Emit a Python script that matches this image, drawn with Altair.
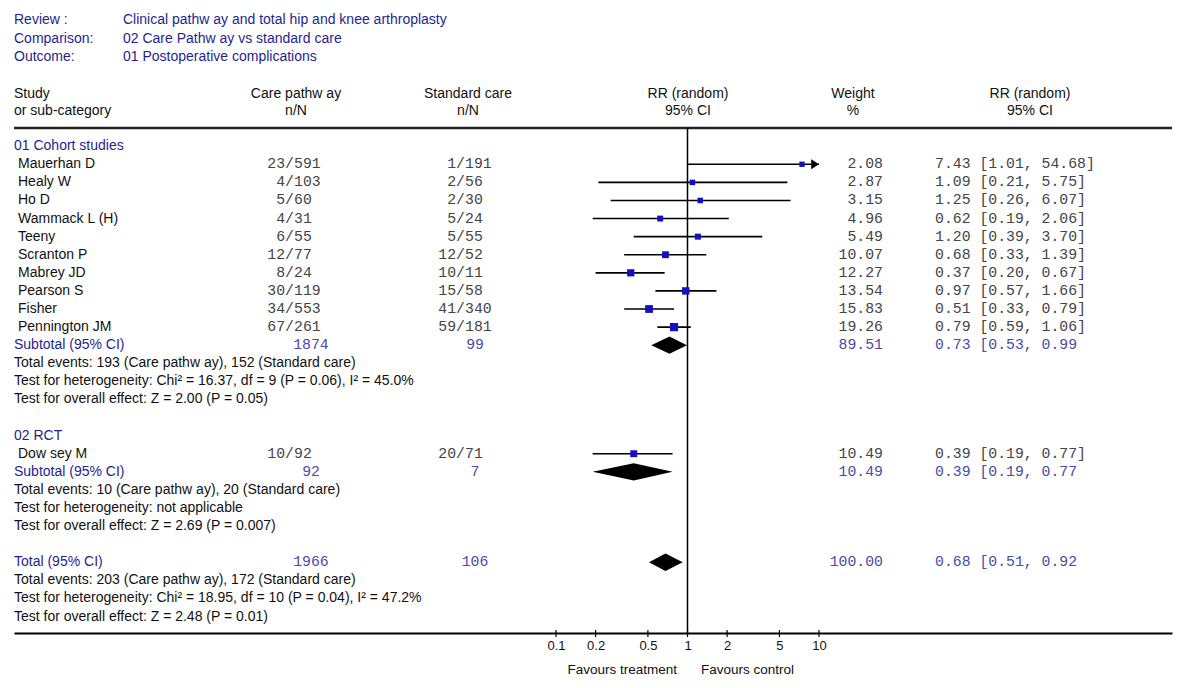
import altair as alt
import pandas as pd

# ---------------- data ----------------
STUDY = ["Mauerhan D", "Healy W", "Ho D", "Wammack L (H)", "Teeny", "Scranton P",
         "Mabrey JD", "Pearson S", "Fisher", "Pennington JM", "Dow sey M"]
GROUP = [0, 0, 0, 0, 0, 0, 0, 0, 0, 0, 1]
GROUP_NAMES = ["01 Cohort studies", "02 RCT"]
CARE_n = [23, 4, 5, 4, 6, 12, 8, 30, 34, 67, 10]
CARE_N = [591, 103, 60, 31, 55, 77, 24, 119, 553, 261, 92]
STD_n = [1, 2, 2, 5, 5, 12, 10, 15, 41, 59, 20]
STD_N = [191, 56, 30, 24, 55, 52, 11, 58, 340, 181, 71]
WEIGHT = [2.08, 2.87, 3.15, 4.96, 5.49, 10.07, 12.27, 13.54, 15.83, 19.26, 10.49]
RR = [7.43, 1.09, 1.25, 0.62, 1.20, 0.68, 0.37, 0.97, 0.51, 0.79, 0.39]
LO = [1.01, 0.21, 0.26, 0.19, 0.39, 0.33, 0.20, 0.57, 0.33, 0.59, 0.19]
HI = [54.68, 5.75, 6.07, 2.06, 3.70, 1.39, 0.67, 1.66, 0.79, 1.06, 0.77]

SUM_LABEL = ["Subtotal (95% CI)", "Subtotal (95% CI)", "Total (95% CI)"]
SUM_CARE = ["1874", "92", "1966"]
SUM_STD = ["99", "7", "106"]
SUM_WEIGHT = [89.51, 10.49, 100.00]
SUM_RR = [0.73, 0.39, 0.68]
SUM_LO = [0.53, 0.19, 0.51]
SUM_HI = [0.99, 0.77, 0.92]

GROUP_STATS = [
    ["Total events: 193 (Care pathw ay), 152 (Standard care)",
     "Test for heterogeneity: Chi² = 16.37, df = 9 (P = 0.06), I² = 45.0%",
     "Test for overall effect: Z = 2.00 (P = 0.05)"],
    ["Total events: 10 (Care pathw ay), 20 (Standard care)",
     "Test for heterogeneity: not applicable",
     "Test for overall effect: Z = 2.69 (P = 0.007)"],
]
TOTAL_STATS = ["Total events: 203 (Care pathw ay), 172 (Standard care)",
               "Test for heterogeneity: Chi² = 18.95, df = 10 (P = 0.04), I² = 47.2%",
               "Test for overall effect: Z = 2.48 (P = 0.01)"]

HEADER_KEYS = ["Review :", "Comparison:", "Outcome:"]
HEADER_VALS = ["Clinical pathw ay and total hip and knee arthroplasty",
               "02 Care Pathw ay vs standard care",
               "01 Postoperative complications"]
COL_HEAD_1 = ["Study", "Care pathw ay", "Standard care", "RR (random)", "Weight", "RR (random)"]
COL_HEAD_2 = ["or sub-category", "n/N", "n/N", "95% CI", "%", "95% CI"]
TICKS = [0.1, 0.2, 0.5, 1, 2, 5, 10]
REF = [1]
X_MAX = 10
FAV_LEFT = "Favours treatment"
FAV_RIGHT = "Favours control"

# ---------------- layout ----------------
OX, OY = 14, 128            # page position of plot origin
W, H = 1158, 505
ROW0 = 146.2 - OY           # pixel of row 0 inside plot
STEP = 18.09
X_ONE = 687.5 - OX
DEC = 131.5
SANS = "Liberation Sans"
MONO = "Liberation Mono"
FS = 14
MFS = 14.8
BLUE = "#1f1f8f"
MBLUE = "#4a4aa8"
GRAY = "#444444"
DIAM_HALF = 0.48

yscale = alt.Scale(domain=[-ROW0 / STEP, (H - ROW0) / STEP], reverse=True, nice=False, zero=False)
xscale = alt.Scale(type="log", domain=[10 ** (-X_ONE / DEC), 10 ** ((W - X_ONE) / DEC)], nice=False)
AX = alt.Axis(values=TICKS, format="~g", ticks=False, tickSize=0, grid=False, domain=True,
              domainColor="black", domainWidth=2, labelFont=SANS, labelFontSize=13,
              labelColor="#111111", labelPadding=6, title=None, labelFlush=False,
              labelOverlap=False)

# ---------------- row assignment ----------------
study_rows = [0] * len(STUDY)
blue_labels, stat_lines, sum_rows = [], [], []
r = 0
for g, gname in enumerate(GROUP_NAMES):
    blue_labels.append((gname, r)); r += 1
    for i in range(len(STUDY)):
        if GROUP[i] == g:
            study_rows[i] = r; r += 1
    blue_labels.append((SUM_LABEL[g], r)); sum_rows.append(r); r += 1
    for s in GROUP_STATS[g]:
        stat_lines.append((s, r)); r += 1
    r += 1
blue_labels.append((SUM_LABEL[2], r)); sum_rows.append(r); r += 1
for s in TOTAL_STATS:
    stat_lines.append((s, r)); r += 1

st = pd.DataFrame({
    "name": STUDY, "row": study_rows, "w": WEIGHT, "rr": RR, "lo": LO, "hi": HI,
    "care_num": [f"{a}/" for a in CARE_n], "care_den": [str(b) for b in CARE_N],
    "std_num": [f"{a}/" for a in STD_n], "std_den": [str(b) for b in STD_N],
    "wtxt": [f"{w:.2f}" for w in WEIGHT],
    "citxt": [f"{a:.2f} [{b:.2f}, {c:.2f}]" for a, b, c in zip(RR, LO, HI)],
})
st["hi_clip"] = st["hi"].clip(upper=X_MAX)
arrows = st[st["hi"] > X_MAX].assign(xa=X_MAX)

sm = pd.DataFrame({
    "row": sum_rows, "care": SUM_CARE, "std": SUM_STD,
    "wtxt": [f"{w:.2f}" for w in SUM_WEIGHT],
    "citxt": [f"{a:.2f} [{b:.2f}, {c:.2f}" for a, b, c in zip(SUM_RR, SUM_LO, SUM_HI)],
})
dia = []
for k, (rw, e, l, h) in enumerate(zip(sum_rows, SUM_RR, SUM_LO, SUM_HI)):
    dia += [{"g": k, "x": l, "y1": rw, "y2": rw},
            {"g": k, "x": e, "y1": rw - DIAM_HALF, "y2": rw + DIAM_HALF},
            {"g": k, "x": h, "y1": rw, "y2": rw}]
dia = pd.DataFrame(dia)
bl = pd.DataFrame(blue_labels, columns=["t", "row"])
sl = pd.DataFrame(stat_lines, columns=["t", "row"])

Y = alt.Y("row:Q", scale=yscale, axis=None)

def xenc(field):
    return alt.X(field, type="quantitative", scale=xscale, axis=AX)

layers = []
# top line
layers.append(alt.Chart(pd.DataFrame({"a": [0]})).mark_rule(color="#222222", strokeWidth=2.5)
              .encode(x=alt.value(0), x2=alt.value(W), y=alt.value(0)))
# reference line
layers.append(alt.Chart(pd.DataFrame({"v": REF})).mark_rule(color="black", strokeWidth=1.5)
              .encode(x=xenc("v"), y=alt.value(0), y2=alt.value(H)))
# tick marks crossing the axis
layers.append(alt.Chart(pd.DataFrame({"t": TICKS})).mark_rule(color="black", strokeWidth=1.2)
              .encode(x=xenc("t"), y=alt.value(H - 3), y2=alt.value(H + 4)))
# CI lines
layers.append(alt.Chart(st).mark_rule(color="black", strokeWidth=1.6)
              .encode(x=xenc("lo"), x2="hi_clip:Q", y=Y))
# squares
layers.append(alt.Chart(st).mark_square(color="#1010c0", opacity=1)
              .encode(x=xenc("rr"), y=Y,
                      size=alt.Size("w:Q", scale=alt.Scale(domain=[2, 20], range=[28, 70]), legend=None)))
# arrow heads
layers.append(alt.Chart(arrows).mark_point(shape="M-1.56,-1L0,0L-1.56,1Z", filled=True,
                                           color="black", size=100, opacity=1)
              .encode(x=xenc("xa"), y=Y))
# diamonds
layers.append(alt.Chart(dia).mark_area(color="black", orient="vertical", opacity=1)
              .encode(x=xenc("x"), y=alt.Y("y1:Q", scale=yscale, axis=None), y2="y2:Q",
                      detail="g:N"))

def txt(df, field, x, align, font=SANS, size=FS, color="#111111"):
    return (alt.Chart(df).mark_text(align=align, baseline="middle", font=font, fontSize=size, color=color)
            .encode(x=alt.value(x), y=Y, text=f"{field}:N"))

layers.append(txt(bl, "t", 0, "left", color=BLUE))
layers.append(txt(st, "name", 4, "left"))
layers.append(txt(sl, "t", 0, "left"))
layers.append(txt(st, "care_num", 280, "right", MONO, MFS, GRAY))
layers.append(txt(st, "care_den", 280, "left", MONO, MFS, GRAY))
layers.append(txt(st, "std_num", 451, "right", MONO, MFS, GRAY))
layers.append(txt(st, "std_den", 451, "left", MONO, MFS, GRAY))
layers.append(txt(st, "wtxt", 869, "right", MONO, MFS, GRAY))
layers.append(txt(st, "citxt", 921, "left", MONO, MFS, GRAY))
layers.append(txt(sm, "care", 297, "center", MONO, MFS, MBLUE))
layers.append(txt(sm, "std", 461, "center", MONO, MFS, MBLUE))
layers.append(txt(sm, "wtxt", 869, "right", MONO, MFS, MBLUE))
layers.append(txt(sm, "citxt", 921, "left", MONO, MFS, MBLUE))

def fixed(text, x, y, align, color="#111111", size=FS):
    return (alt.Chart(pd.DataFrame({"t": [text]}))
            .mark_text(align=align, baseline="middle", font=SANS, fontSize=size, color=color)
            .encode(x=alt.value(x), y=alt.value(y), text="t:N"))

HEAD_Y = [20 - OY, 39 - OY, 57 - OY]
for k, v, yy in zip(HEADER_KEYS, HEADER_VALS, HEAD_Y):
    layers.append(fixed(k, 0, yy, "left", BLUE))
    layers.append(fixed(v, 109, yy, "left", BLUE))
COL_X = [0, 296 - OX, 468 - OX, 688 - OX, 853 - OX, 1030 - OX]
COL_AL = ["left", "center", "center", "center", "center", "center"]
for t1, t2, xx, al in zip(COL_HEAD_1, COL_HEAD_2, COL_X, COL_AL):
    layers.append(fixed(t1, xx, 94 - OY, al))
    layers.append(fixed(t2, xx, 111 - OY, al))
layers.append(fixed(FAV_LEFT, 677 - OX, 670 - OY, "right", size=13.5))
layers.append(fixed(FAV_RIGHT, 701 - OX, 670 - OY, "left", size=13.5))

chart = (alt.layer(*layers)
         .properties(width=W, height=H,
                     padding={"left": 6, "top": 120, "right": 20, "bottom": 45},
                     autosize=alt.AutoSizeParams(type="none"), background="white")
         .configure_view(stroke=None))

chart.save("out.html", embed_options={"renderer": "svg", "actions": False})
